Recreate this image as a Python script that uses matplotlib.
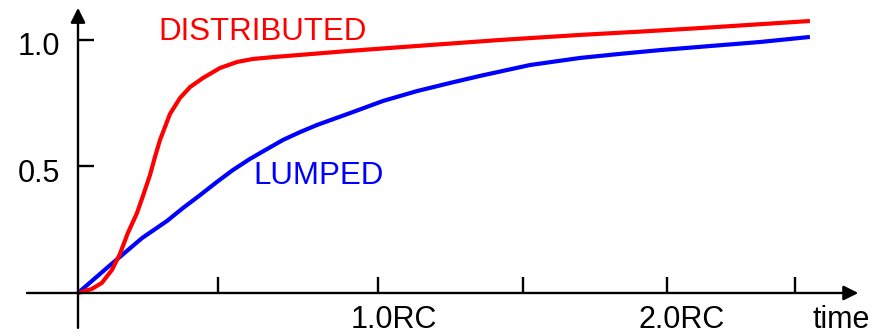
import matplotlib
matplotlib.use("Agg")
import matplotlib.pyplot as plt

# --- data (time in RC units, normalised voltage) ----
dist_t = [0.0, 0.047, 0.081, 0.115, 0.142, 0.169, 0.200, 0.220, 0.244, 0.261,
          0.278, 0.312, 0.346, 0.380, 0.424, 0.481, 0.539, 0.593, 0.668, 0.753,
          0.922, 1.193, 1.431, 1.702, 1.905, 2.108, 2.481]
dist_v = [0.0, 0.016, 0.040, 0.091, 0.154, 0.237, 0.316, 0.383, 0.466, 0.538,
          0.605, 0.708, 0.771, 0.814, 0.850, 0.889, 0.913, 0.925, 0.933, 0.941,
          0.957, 0.980, 1.000, 1.020, 1.033, 1.047, 1.075]

lump_t = [0.0, 0.102, 0.217, 0.302, 0.356, 0.414, 0.471, 0.525, 0.583, 0.641,
          0.695, 0.753, 0.810, 0.922, 1.034, 1.149, 1.261, 1.363, 1.532, 1.702,
          1.837, 1.973, 2.142, 2.312, 2.481]
lump_v = [0.0, 0.103, 0.217, 0.285, 0.336, 0.387, 0.439, 0.486, 0.530, 0.569,
          0.605, 0.636, 0.664, 0.711, 0.759, 0.798, 0.830, 0.858, 0.901, 0.929,
          0.945, 0.960, 0.976, 0.992, 1.012]

x_ticks = [0.475, 1.017, 1.508, 1.997, 2.431]
x_labels = [(1.07, "1.0RC"), (2.047, "2.0RC")]
y_ticks = [0.5, 1.0]
y_labels = ["0.5", "1.0"]

RED = "#ff0000"
BLUE = "#0000ff"
FONT = "Liberation Sans"

fig = plt.figure(figsize=(8.83, 3.36), dpi=100)
ax = fig.add_axes([0, 0, 1, 1])
ax.set_xlim(-0.2644, 2.7288)
ax.set_ylim(-0.170, 1.158)
ax.axis("off")

# hand-drawn style axes with arrow heads
arrow = dict(arrowstyle="-|>", color="black", lw=1.7, mutation_scale=22,
             shrinkA=0, shrinkB=0)
ax.annotate("", xy=(2.645, 0), xytext=(-0.173, 0), arrowprops=arrow)
ax.annotate("", xy=(0, 1.127), xytext=(0, -0.138), arrowprops=arrow)

ax.vlines(x_ticks, 0, 0.063, color="black", lw=1.7)
ax.hlines(y_ticks, 0, 0.054, color="black", lw=1.7)

for v, lab in zip(y_ticks, y_labels):
    ax.text(-0.061, v - 0.028, lab, ha="right", va="center",
            fontsize=22, family=FONT)
for x, lab in x_labels:
    ax.text(x, -0.107, lab, ha="center", va="center", fontsize=22, family=FONT)
ax.text(2.587, -0.107, "time", ha="center", va="center", fontsize=22, family=FONT)

# the two step responses
ax.plot(lump_t, lump_v, color=BLUE, lw=3, solid_capstyle="butt",
        solid_joinstyle="round")
ax.plot(dist_t, dist_v, color=RED, lw=3, solid_capstyle="butt",
        solid_joinstyle="round")

ax.text(0.624, 1.033, "DISTRIBUTED", color=RED, ha="center", va="center",
        fontsize=22.5, family=FONT)
ax.text(0.814, 0.462, "LUMPED", color=BLUE, ha="center", va="center",
        fontsize=22.5, family=FONT)

fig.savefig("out.png", dpi=100)
